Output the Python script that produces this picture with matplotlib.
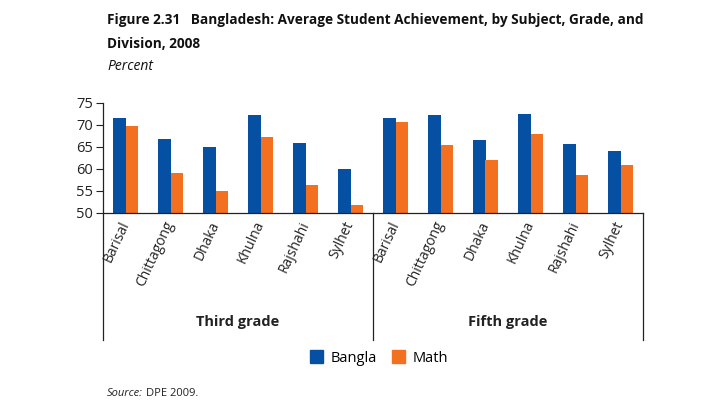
import matplotlib
matplotlib.use("Agg")
import matplotlib.pyplot as plt
from matplotlib.patches import Rectangle
import numpy as np

plt.rcParams['font.family'] = ['Open Sans', 'DejaVu Sans']

divisions = ["Barisal", "Chittagong", "Dhaka", "Khulna", "Rajshahi", "Sylhet"]
grades = ["Third grade", "Fifth grade"]
bangla_third = [71.6, 66.8, 65.0, 72.2, 65.9, 60.0]
math_third = [69.7, 59.1, 55.0, 67.3, 56.4, 51.7]
bangla_fifth = [71.6, 72.2, 66.6, 72.5, 65.7, 64.1]
math_fifth = [70.6, 65.4, 62.1, 67.9, 58.7, 60.9]
yticks = [50, 55, 60, 65, 70, 75]

blue = "#0650A3"
orange = "#F37021"

fig = plt.figure(figsize=(7.09, 4.12), dpi=100)
W, H = 709, 412
ax = fig.add_axes([103 / W, 1 - 213 / H, 540 / W, (213 - 102.7) / H])

bangla = bangla_third + bangla_fifth
math = math_third + math_fifth
labels = divisions + divisions
x = np.arange(len(labels))
bw = 0.275
ax.bar(x - bw / 2, [b - 50 for b in bangla], bw, bottom=50, color=blue, label="Bangla")
ax.bar(x + bw / 2, [m - 50 for m in math], bw, bottom=50, color=orange, label="Math")

ax.set_xlim(-0.5, len(labels) - 0.5)
ax.set_ylim(50, 75)
ax.set_yticks(yticks)
ax.tick_params(axis='y', labelsize=10.5, length=5, width=0.8, direction='out', pad=2, colors='#222222')
ax.set_xticks([])
for s in ['top', 'right']:
    ax.spines[s].set_visible(False)
for s in ['left', 'bottom']:
    ax.spines[s].set_linewidth(0.9)
    ax.spines[s].set_color('#222222')

trans = matplotlib.transforms.blended_transform_factory(ax.transData, ax.transAxes)
depth = -(340 - 213) / (213 - 102.7)
for xv in [-0.5, 5.5, 11.5]:
    ax.plot([xv, xv], [0, depth], transform=trans, color='#222222', lw=0.9, clip_on=False)

for i, lab in enumerate(labels):
    ax.text(i - 0.15, -0.05, lab, transform=trans, rotation=65, ha='right', va='top',
            rotation_mode='anchor', fontsize=10, color='#222222')

gy = -(322 - 213) / (213 - 102.7)
for gi, g in enumerate(grades):
    ax.text(gi * 6 + 2.5, gy, g, transform=trans, ha='center', va='center',
            fontsize=10.5, fontweight='bold', color='#222222')

# legend
fig.legend(handles=[Rectangle((0, 0), 1, 1, color=blue), Rectangle((0, 0), 1, 1, color=orange)],
           labels=["Bangla", "Math"], loc='center', bbox_to_anchor=(379 / W, 1 - 358 / H),
           ncol=2, frameon=False, fontsize=10.5, handlelength=0.9, handleheight=0.9,
           handletextpad=0.5, columnspacing=1.0)

fig.text(107 / W, 1 - 20 / H, "Figure 2.31   Bangladesh: Average Student Achievement, by Subject, Grade, and",
         fontsize=9.8, fontweight='bold', ha='left', va='center', color='#111111')
fig.text(107 / W, 1 - 44 / H, "Division, 2008", fontsize=9.8, fontweight='bold', ha='left', va='center', color='#111111')
fig.text(107 / W, 1 - 66 / H, "Percent", fontsize=10, style='italic', ha='left', va='center', color='#111111')
fig.text(107 / W, 1 - 393 / H, "Source:", fontsize=8, style='italic', ha='left', va='center', color='#222222')
fig.text(146 / W, 1 - 393 / H, "DPE 2009.", fontsize=8, ha='left', va='center', color='#222222')

fig.savefig("out.png", dpi=100)
